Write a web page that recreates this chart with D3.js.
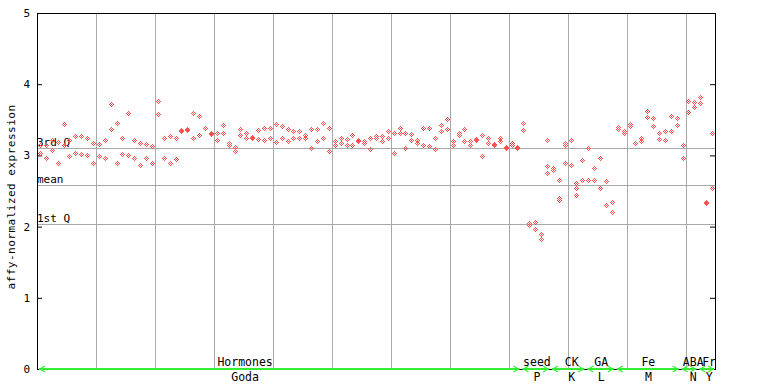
<!DOCTYPE html>
<html>
<head>
<meta charset="utf-8">
<script src="https://cdn.jsdelivr.net/npm/d3@7"></script>
<style>
  html, body { margin: 0; padding: 0; background: #fff; }
  svg { display: block; }
  text { font-family: "DejaVu Sans Mono", monospace; }
</style>
</head>
<body>
<svg id="chart" width="768" height="384"></svg>
<script>
// ---- data ----
const expression = [
  [3.15,3.03],[3.14,2.97],[3.22,3.08],[3.19,2.90],[3.44,3.14],[3.22,2.99],[3.27,3.04],[3.27,3.02],[3.25,3.00],[3.17,2.90],
  [3.16,2.99],[3.22,2.96],[3.72,3.37],[3.46,2.89],[3.25,3.02],[3.59,3.00],[3.21,2.96],[3.18,2.86],[3.16,2.96],[3.13,2.89],
  [3.76,3.58],[3.25,2.96],[3.27,2.90],[3.25,2.95],[3.34,3.35],[3.36,3.37],[3.59,3.25],[3.55,3.29],[3.38,3.39],[3.31,3.30],
  [3.31,3.21],[3.42,3.31],[3.17,3.14],[3.12,3.06],[3.37,3.28],[3.31,3.24],[3.26,3.24],[3.35,3.23],[3.39,3.21],[3.38,3.24],
  [3.44,3.19],[3.41,3.25],[3.37,3.20],[3.34,3.24],[3.34,3.25],[3.28,3.25],[3.37,3.11],[3.37,3.20],[3.46,3.24],[3.39,3.06],
  [3.20,3.14],[3.24,3.17],[3.23,3.14],[3.28,3.14],[3.21,3.20],[3.20,3.17],[3.24,3.09],[3.27,3.24],[3.27,3.20],[3.34,3.24],
  [3.31,3.03],[3.39,3.32],[3.32,3.11],[3.30,3.21],[3.21,3.18],[3.38,3.14],[3.38,3.13],[3.24,3.09],[3.42,3.34],[3.51,3.37],
  [3.20,3.14],[3.31,3.28],[3.37,3.20],[3.20,3.14],[3.23,3.22],[3.28,2.99],[3.25,3.18],[3.16,3.15],[3.24,3.20],[3.12,3.11],
  [3.17,3.14],[3.12,3.11],[3.45,3.35],[2.05,2.02],[2.07,1.96],[1.89,1.82],[3.21,2.85,2.75],[2.82,2.79],[2.65,2.40,2.37],[3.17,3.14,2.89],
  [3.22,3.21,2.86],[2.61,2.54,2.44],[2.93,2.65],[3.11,2.65],[2.82,2.65],[2.97,2.54],[2.64,2.30],[2.34,2.20],[3.40,3.37],[3.34,3.31],
  [3.44,3.41],[3.18,3.17],[3.25,3.20],[3.62,3.54],[3.52,3.41],[3.32,3.23],[3.34,3.21],[3.55,3.34],[3.52,3.42],[3.14,2.96],
  [3.76,3.61],[3.75,3.68],[3.82,3.73],[2.35,2.33],[3.31,2.54]
];
const yTicks = [0, 1, 2, 3, 4, 5];
const quantNames = ["3rd Q", "mean", "1st Q"];
const quantValues = [3.10, 2.585, 2.035];
const groupTop = ["Hormones", "seed", "CK", "GA", "Fe", "ABA", "Fr"];
const groupBottom = ["Goda", "P", "K", "L", "M", "N", "Y"];
const groupFirst = [0, 82, 87, 93, 98, 109, 112];
const groupLast = [81, 86, 92, 97, 108, 111, 114];
const groupLabelAt = [34.8, 84.3, 90.2, 95.2, 103.2, 110.8, 113.5];

// ---- layout ----
const L = 37, R = 715, T = 13, B = 369;
const svg = d3.select("#chart");
const x = d3.scaleBand().domain(d3.range(expression.length)).range([L, R]).padding(0);
const bw = x.bandwidth();
const xc = i => x(i) + bw / 2;
const xs = d3.scaleLinear().domain([0, expression.length]).range([L, R]);
const y = d3.scaleLinear().domain([0, 5]).range([B, T]);
const grid = "#a8a8a8";

// vertical grid every 10 samples
svg.append("g").selectAll("line").data(d3.range(10, expression.length, 10)).join("line")
  .attr("x1", d => Math.round(x(d)) + 0.5).attr("x2", d => Math.round(x(d)) + 0.5)
  .attr("y1", T).attr("y2", B).attr("stroke", grid).attr("stroke-width", 1);

// quantile lines
svg.append("g").selectAll("line").data(quantValues).join("line")
  .attr("x1", L).attr("x2", R)
  .attr("y1", d => Math.round(y(d)) + 0.5).attr("y2", d => Math.round(y(d)) + 0.5)
  .attr("stroke", grid).attr("stroke-width", 1);
svg.append("g").selectAll("text").data(quantValues).join("text")
  .attr("x", L).attr("y", d => Math.round(y(d)) - 2)
  .attr("font-size", 11).attr("fill", "#000")
  .text((d, i) => quantNames[i]);

// frame
svg.append("line").attr("x1", L).attr("x2", R + 1).attr("y1", T + 0.5).attr("y2", T + 0.5).attr("stroke", "#000");
svg.append("line").attr("x1", L).attr("x2", R + 1).attr("y1", B + 0.5).attr("y2", B + 0.5).attr("stroke", "#000");

const yAxisL = d3.axisLeft(y).tickValues(yTicks).tickSizeInner(-5).tickSizeOuter(0).tickPadding(7).tickFormat(d3.format("d"));
const gl = svg.append("g").attr("transform", `translate(${L},0)`).call(yAxisL);
gl.selectAll("text").attr("font-family", "DejaVu Sans Mono, monospace").attr("font-size", 11).attr("fill", "#000");
gl.selectAll("line,path").attr("stroke", "#000");

const yAxisR = d3.axisRight(y).tickValues(yTicks).tickSizeInner(-5).tickSizeOuter(0).tickFormat("");
const gr = svg.append("g").attr("transform", `translate(${R},0)`).call(yAxisR);
gr.selectAll("line,path").attr("stroke", "#000");

// y label
svg.append("text")
  .attr("transform", `translate(15,${(T + B) / 2 + 6}) rotate(-90)`)
  .attr("text-anchor", "middle").attr("font-size", 11).attr("letter-spacing", 0.5)
  .attr("fill", "#000")
  .text("affy-normalized expression");

// points: checker-pattern pixel diamonds
const pixelOffsets = [[0,-2],[-1,-1],[1,-1],[-2,0],[0,0],[2,0],[-1,1],[1,1],[0,2]];
const pts = [];
expression.forEach((vals, i) => vals.forEach(v => pts.push({ i, v })));
const pg = svg.append("g").attr("shape-rendering", "crispEdges");
pg.selectAll("g").data(pts).join("g")
  .attr("transform", d => `translate(${Math.round(xc(d.i))},${Math.round(y(d.v))})`)
  .selectAll("rect").data(pixelOffsets).join("rect")
  .attr("x", d => d[0]).attr("y", d => d[1]).attr("width", 1).attr("height", 1)
  .attr("fill", "#ff5050");

// group bars along bottom
const green = "#33ee33";
const gg = svg.append("g");
groupTop.forEach((name, k) => {
  const x0 = x(groupFirst[k]) + 2;
  const x1 = x(groupLast[k]) + bw - 1;
  gg.append("line").attr("x1", x0).attr("x2", x1).attr("y1", B).attr("y2", B)
    .attr("stroke", green).attr("stroke-width", 2);
  gg.append("path").attr("d", `M${x0 + 6},${B - 3}L${x0 + 1},${B}L${x0 + 6},${B + 3}`)
    .attr("fill", "none").attr("stroke", green).attr("stroke-width", 1.2);
  gg.append("path").attr("d", `M${x1 - 6},${B - 3}L${x1 - 1},${B}L${x1 - 6},${B + 3}`)
    .attr("fill", "none").attr("stroke", green).attr("stroke-width", 1.2);
  const lx = xs(groupLabelAt[k] + 0.5);
  gg.append("text").attr("x", lx).attr("y", B - 3).attr("text-anchor", "middle")
    .attr("font-size", 11.5).attr("fill", "#000").text(name);
  gg.append("text").attr("x", lx).attr("y", B + 12).attr("text-anchor", "middle")
    .attr("font-size", 11.5).attr("fill", "#000").text(groupBottom[k]);
});
</script>
</body>
</html>
